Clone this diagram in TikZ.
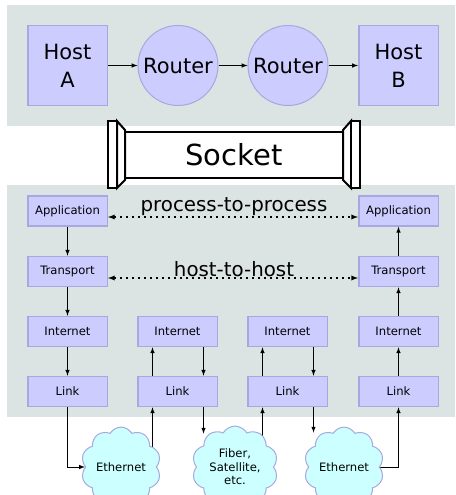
\documentclass[tikz,border=0pt]{standalone}
\usepackage{fontspec}
\setmainfont{DejaVu Sans}
\usetikzlibrary{arrows,shapes.symbols}
\definecolor{fond}{RGB}{220,227,227}
\definecolor{boite}{RGB}{204,204,255}
\definecolor{bord}{RGB}{168,168,224}
\definecolor{nuage}{RGB}{204,255,255}
\pgfdeclarelayer{devant}
\pgfsetlayers{main,devant}

\begin{document}
\begin{tikzpicture}[x=1pt,y=-1pt]
% Styles
 \tikzstyle{couche}=[rectangle,draw=bord,fill=boite,line width=1.5pt,minimum width=79.5pt,minimum height=30pt,inner sep=0pt,font=\fontsize{11.6}{14}\selectfont]
 \tikzstyle{hote}=[couche,minimum height=79.5pt,align=center,font=\fontsize{21}{28}\selectfont]
 \tikzstyle{routeur}=[circle,draw=bord,fill=boite,line width=1pt,minimum size=80pt,inner sep=0pt,font=\fontsize{21}{25}\selectfont]
 \tikzstyle{reseau}=[cloud,cloud puffs=10,cloud puff arc=120,draw=bord,fill=nuage,line width=1pt,minimum width=74pt,minimum height=66pt,inner sep=0pt,align=center,font=\fontsize{11.6}{13.5}\selectfont]
 \tikzstyle{operation}=[->,>=latex,line width=1pt]
 \tikzstyle{liaison}=[<->,>=latex,dash pattern=on 1.6pt off 4.4pt,line width=1.3pt]
 \tikzstyle{etiquette}=[anchor=base,font=\fontsize{19.8}{24}\selectfont]
 \tikzstyle{embout}=[draw,line width=2pt,fill=white]
% Cadre et fonds
 \useasboundingbox (0,0) rectangle (455,495);
 \clip (0,0) rectangle (455,495);
 \fill[fond] (7,5) rectangle (455,126);
 \fill[fond] (7,185) rectangle (455,417);
% Hotes et routeurs
 \node[hote] (ha) at (67.5,65.5) {Host\\A};
 \node[routeur] (r1) at (178,65.5) {Router};
 \node[routeur] (r2) at (288,65.5) {Router};
 \node[hote] (hb) at (398.5,65.5) {Host\\B};
 \draw[operation] (ha)--(r1);
 \draw[operation] (r1)--(r2);
 \draw[operation] (r2)--(hb);
% Socket
 \draw[line width=2.5pt,fill=white] (124,132) rectangle (344,178);
 \path[embout] (117,121)--(125,130)--(125,180)--(117,188)--cycle;
 \path[embout] (108,121) rectangle (117,188);
 \path[embout] (351,121)--(343,130)--(343,180)--(351,188)--cycle;
 \path[embout] (351,121) rectangle (360,188);
 \node[font=\fontsize{29}{34}\selectfont] (socket) at (234,155) {Socket};
% Piles de protocoles
 \node[couche] (a1) at (67.5,211) {Application};
 \node[couche] (t1) at (67.5,271.5) {Transport};
 \node[couche] (i1) at (67.5,331.5) {Internet};
 \node[couche] (l1) at (67.5,391.5) {Link};
 \node[couche] (i2) at (177.5,331.5) {Internet};
 \node[couche] (l2) at (177.5,391.5) {Link};
 \node[couche] (i3) at (287.5,331.5) {Internet};
 \node[couche] (l3) at (287.5,391.5) {Link};
 \node[couche] (a4) at (398.5,211) {Application};
 \node[couche] (t4) at (398.5,271.5) {Transport};
 \node[couche] (i4) at (398.5,331.5) {Internet};
 \node[couche] (l4) at (398.5,391.5) {Link};
% Liaisons logiques
 \draw[liaison] ([yshift=-6pt]a1.east)--([yshift=-6pt]a4.west);
 \node[etiquette] (pp) at (234,211) {process-to-process};
 \draw[liaison] ([yshift=-6.5pt]t1.east)--([yshift=-6.5pt]t4.west);
 \node[etiquette] (hh) at (234,276) {host-to-host};
% Descente et remontee
 \draw[operation] (a1)--(t1);
 \draw[operation] (t1)--(i1);
 \draw[operation] (i1)--(l1);
 \draw[operation] ([xshift=-25pt]l2.north)--([xshift=-25pt]i2.south);
 \draw[operation] ([xshift=26pt]i2.south)--([xshift=26pt]l2.north);
 \draw[operation] ([xshift=-25pt]l3.north)--([xshift=-25pt]i3.south);
 \draw[operation] ([xshift=26pt]i3.south)--([xshift=26pt]l3.north);
 \draw[operation] (l4)--(i4);
 \draw[operation] (i4)--(t4);
 \draw[operation] (t4)--(a4);
% Reseaux physiques
 \begin{pgfonlayer}{devant}
 \node[reseau] (c1) at (121,467) {Ethernet};
 \node[reseau,minimum width=86pt,minimum height=68pt] (c2) at (235,467) {Fiber,\\Satellite,\\etc.};
 \node[reseau,minimum width=77pt] (c3) at (344,467) {Ethernet};
 \end{pgfonlayer}
 \coordinate (p2h) at ([xshift=-25pt]l2.south);
 \coordinate (p2b) at ([xshift=26pt]l2.south);
 \coordinate (p3h) at ([xshift=-25pt]l3.south);
 \coordinate (p3b) at ([xshift=26pt]l3.south);
 \draw[operation] (l1) |- (c1);
 \draw[operation] (p2h |- c1)--(p2h);
 \draw[operation,shorten >=-8pt] (p2b)--(p2b |- c2.north);
 \draw[operation] (p3h |- c2)--(p3h);
 \draw[operation,shorten >=-6pt] (p3b)--(p3b |- c3.north);
 \draw[operation] (c3) -| (l4);
\end{tikzpicture}
\end{document}
